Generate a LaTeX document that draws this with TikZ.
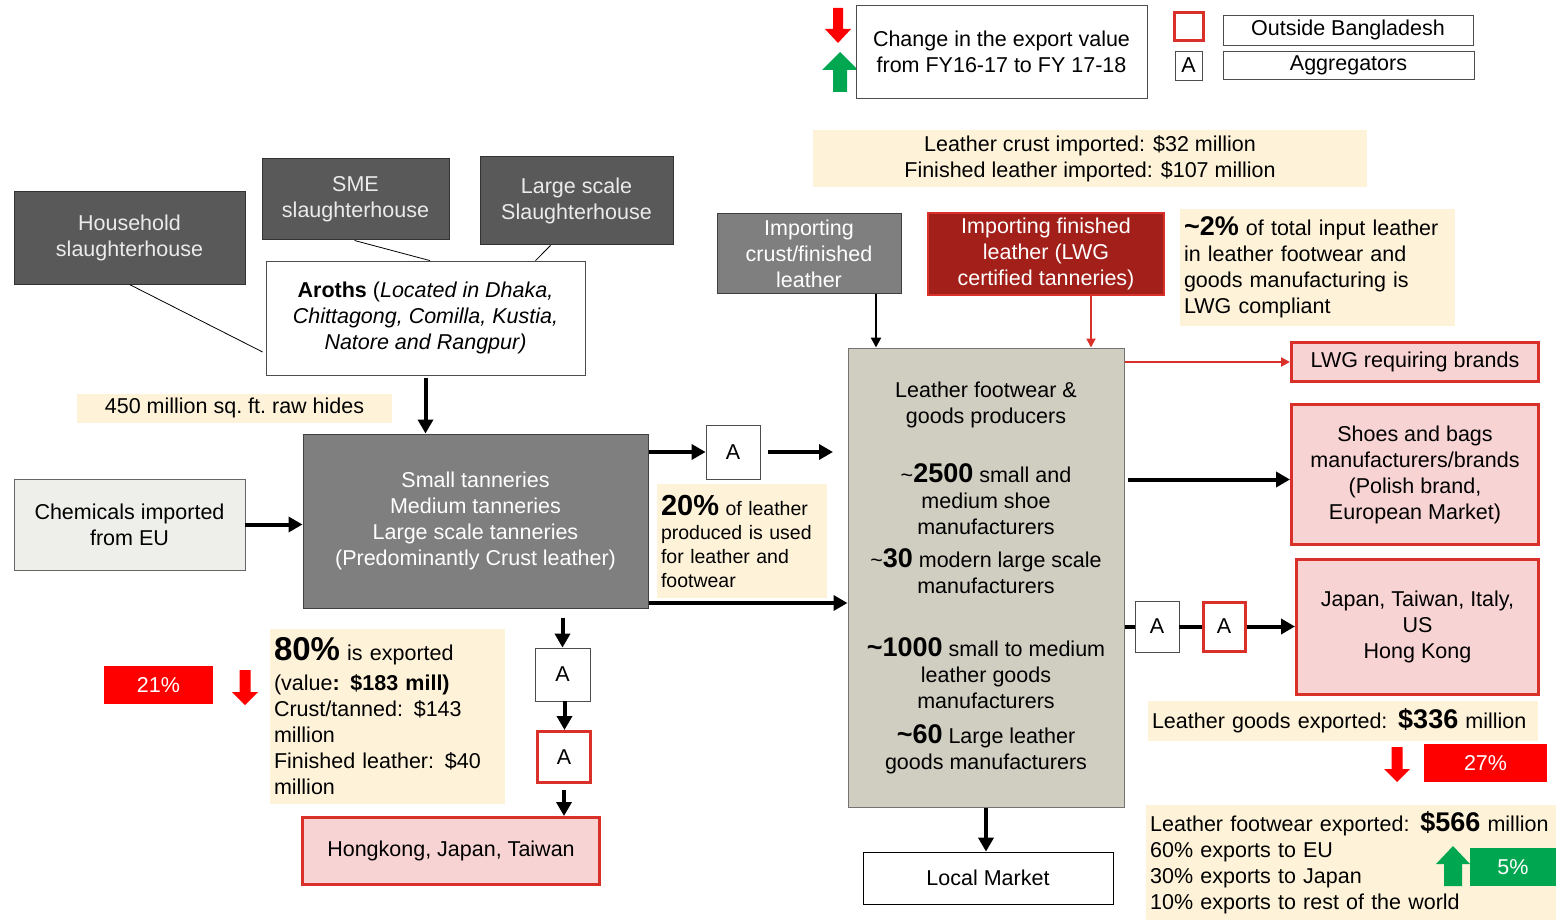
\documentclass[tikz,border=0pt]{standalone}
\usepackage{fontspec}
\setmainfont{Liberation Sans}
\usetikzlibrary{arrows.meta}
\definecolor{dkgray}{HTML}{595959}
\definecolor{mdgray}{HTML}{7F7F7F}
\definecolor{notey}{HTML}{FEF2D9}
\definecolor{pinkf}{HTML}{F8D3D3}
\definecolor{redb}{HTML}{D9302A}
\definecolor{dkred}{HTML}{A31F1A}
\definecolor{prodf}{HTML}{D0CDC1}
\definecolor{chemf}{HTML}{EEEEEA}
\definecolor{tagred}{HTML}{FF0000}
\definecolor{taggreen}{HTML}{00A650}
\newcommand\blkdown[7]{\fill[#1] (#2-#5,#3) -- (#2+#5,#3) -- (#2+#5,#4-#7) -- (#2+#6,#4-#7) -- (#2,#4) -- (#2-#6,#4-#7) -- (#2-#5,#4-#7) -- cycle;}
\newcommand\blkup[7]{\fill[#1] (#2-#5,#4) -- (#2+#5,#4) -- (#2+#5,#3+#7) -- (#2+#6,#3+#7) -- (#2,#3) -- (#2-#6,#3+#7) -- (#2-#5,#3+#7) -- cycle;}
\newcommand\bnum[2]{{\fontsize{#1}{26}\selectfont\bfseries #2}}
\begin{document}
\begin{tikzpicture}[x=1pt,y=-1pt,
  bxbase/.style={rectangle, inner sep=0pt, align=center, font=\fontsize{21.5}{26}\selectfont},
  sz/.style 2 args={minimum width=#1pt, minimum height=#2pt},
  wbox/.style={bxbase, draw=black!70, line width=0.8pt, fill=white},
  dkbox/.style={bxbase, draw=black!80, fill=dkgray, text=white!92!black, line width=1pt},
  mdbox/.style={bxbase, draw=black!75, fill=mdgray, text=white, line width=1pt},
  outbox/.style={bxbase, draw=redb, fill=pinkf, line width=3pt},
  redA/.style={bxbase, draw=redb, fill=white, line width=3pt},
  notebox/.style={bxbase, fill=notey},
  lnote/.style={notebox, align=left, inner xsep=4pt},
  tagbox/.style={bxbase, text=white},
  bigarr/.style={line width=4pt, -{Triangle[length=14pt,width=15pt]}},
  medarr/.style={line width=2.5pt, -{Triangle[length=10pt,width=10pt]}},
  redarr/.style={draw=redb, line width=2pt, -{Triangle[length=9pt,width=9pt]}},
]
\useasboundingbox (0,0) rectangle (1556,920);

% ---------- legend ----------
\blkdown{tagred}{838}{8}{43}{5}{13}{14}
\blkup{taggreen}{840}{52}{92}{7}{18}{18}
\node[wbox, sz={291}{93}] (chg) at (1001.5,52) {Change in the export value\\from FY16-17 to FY 17-18};
\node[bxbase, draw=redb, line width=3pt, sz={29}{28}] (redsq) at (1188.5,27) {};
\node[wbox, sz={250}{30}] (outside) at (1348,30) {Outside Bangladesh};
\node[wbox, sz={27}{29}] (legA) at (1188.5,65.5) {A};
\node[wbox, sz={251}{28}] (aggr) at (1348.5,65) {Aggregators};

% ---------- notes ----------
\node[notebox, sz={554}{57}] (crustnote) at (1090,159) {Leather crust imported: \$32 million\\Finished leather imported: \$107 million};
\node[lnote, sz={275}{117}, text width=267pt] (lwgnote) at (1317.5,267.5)
  {\bnum{27}{\textasciitilde2\%} of total input leather\\in leather footwear and\\goods manufacturing is\\LWG compliant};
\node[notebox, sz={315}{29}] (rawnote) at (234.5,408) {450 million sq.\ ft.\ raw hides};
\node[lnote, sz={170}{114}, text width=162pt, font=\fontsize{19.5}{24}\selectfont] (note20) at (742,541)
  {\bnum{29}{20\%} of leather\\produced is used\\for leather and\\footwear};
\node[lnote, sz={235}{175}, text width=227pt] (note80) at (387.5,716)
  {\bnum{33}{80\%} is exported\\[4pt](value\textbf{: \$183 mill)}\\Crust/tanned: \$143\\million\\Finished leather: \$40\\million};
\node[lnote, sz={390}{40}, text width=382pt] (note336) at (1343,721)
  {Leather goods exported: \bnum{27}{\$336} million};
\node[lnote, sz={410}{116}, text width=402pt, anchor=north west] (note566) at (1146,805)
  {Leather footwear exported: \bnum{27}{\$566} million\\60\% exports to EU\\30\% exports to Japan\\10\% exports to rest of the world};

% ---------- left side ----------
\node[dkbox, sz={231}{92}] (hh) at (129.5,238) {Household\\slaughterhouse};
\node[dkbox, sz={187}{81}] (sme) at (355.5,199.5) {SME\\slaughterhouse};
\node[dkbox, sz={193}{88}] (lss) at (576.5,201) {Large scale\\Slaughterhouse};
\node[wbox, sz={319}{114}] (aroths) at (425.5,318)
  {\textbf{Aroths} (\textit{Located in Dhaka,}\\\textit{Chittagong, Comilla, Kustia,}\\\textit{Natore and Rangpur)}};
\node[mdbox, sz={345}{174}] (tan) at (475.5,521)
  {Small tanneries\\Medium tanneries\\Large scale tanneries\\(Predominantly Crust leather)};
\node[bxbase, draw=black!60, fill=chemf, line width=0.8pt, sz={231}{91}] (chem) at (129.5,524.5) {Chemicals imported\\from EU};
\node[wbox, sz={54}{54}] (A1) at (733,452) {A};
\coordinate (pin) at (833,452);
\node[wbox, sz={55}{53}] (A2) at (562.5,674.5) {A};
\node[redA, sz={53}{51}] (A3) at (564,757) {A};
\node[outbox, sz={297}{67}] (hk) at (451,851) {Hongkong, Japan, Taiwan};
\node[tagbox, fill=tagred, sz={109}{38}] (r21) at (158.5,685) {21\%};
\blkdown{tagred}{245}{670}{705}{5.5}{13}{13}

% ---------- centre / right ----------
\node[bxbase, draw=black!55, fill=prodf, line width=1pt, sz={276}{459}] (prod) at (986,577.5)
  {Leather footwear \&\\goods producers\\[33pt]
   \textasciitilde\bnum{27}{2500} small and\\medium shoe\\manufacturers\\[7pt]
   \textasciitilde\bnum{27}{30} modern large scale\\manufacturers\\[37pt]
   \bnum{27}{\textasciitilde1000} small to medium\\leather goods\\manufacturers\\[9pt]
   \bnum{27}{\textasciitilde60} Large leather\\goods manufacturers};
\node[mdbox, sz={184}{79}] (impc) at (809,253.5) {Importing\\crust/finished\\leather};
\node[bxbase, draw=redb, fill=dkred, text=white, line width=2pt, sz={236}{82}] (impf) at (1046,254) {Importing finished\\leather (LWG\\certified tanneries)};
\node[outbox, sz={247}{39}] (lwgb) at (1415,362) {LWG requiring brands};
\node[outbox, sz={247}{140}] (shoes) at (1415,474.5) {Shoes and bags\\manufacturers/brands\\(Polish brand,\\European Market)};
\node[wbox, sz={44}{51}] (A4) at (1157,626.5) {A};
\node[redA, sz={42}{49}] (A5) at (1224,626.5) {A};
\node[outbox, sz={242}{135}] (jp) at (1417.5,627) {Japan, Taiwan, Italy,\\US\\Hong Kong};
\node[wbox, draw=black, sz={250}{52}] (local) at (988,878) {Local Market};
\node[tagbox, fill=tagred, sz={123}{38}] (r27) at (1485.5,763) {27\%};
\blkdown{tagred}{1397}{747}{782}{5.5}{13}{13}
\blkup{taggreen}{1453}{846}{886}{9}{17}{18}
\node[tagbox, fill=taggreen, sz={86}{38}] (g5) at (1513,867) {5\%};

% ---------- connectors ----------
\draw[line width=0.8pt] (hh.south) -- ([xshift=-3pt,yshift=-34pt]aroths.west);
\draw[line width=0.8pt] ([xshift=-1pt]sme.south) -- ([xshift=4.5pt]aroths.north);
\draw[line width=0.8pt] ([xshift=-26pt]lss.south) -- ([xshift=110pt]aroths.north);
\draw[bigarr] ([yshift=-3pt]aroths.south) -- (aroths.south |- tan.north);
\draw[bigarr] (chem.east) -- (chem.east -| tan.west);
\draw[bigarr] (tan.east |- A1.west) -- (A1.west);
\draw[bigarr] ([xshift=8pt]A1.east) -- (pin);
\draw[bigarr] ([yshift=-82pt]tan.east) -- ([yshift=-82pt]tan.east -| prod.west);
\draw[bigarr] ([yshift=-9pt]tan.south -| A2.north) -- (A2.north);
\draw[bigarr] ([xshift=2pt]A2.south) -- ([xshift=2pt]A2.south |- A3.north);
\draw[bigarr] ([yshift=-6pt]A3.south) -- (A3.south |- hk.north);
\draw[medarr] ([xshift=67pt]impc.south) -- ([xshift=67pt]impc.south |- prod.north);
\draw[redarr] ([xshift=45pt]impf.south) -- ([xshift=45pt]impf.south |- prod.north);
\draw[redarr] (prod.east |- lwgb.west) -- (lwgb.west);
\draw[bigarr] ([xshift=3pt,yshift=-5pt]prod.east |- shoes.west) -- ([yshift=-5pt]shoes.west);
\draw[line width=4pt] (prod.east |- A4.west) -- (A4.west);
\draw[line width=4pt] (A4.east) -- (A5.west);
\draw[bigarr] (A5.east) -- (A5.east -| jp.west);
\draw[bigarr] (prod.south) -- (prod.south |- local.north);
\end{tikzpicture}
\end{document}
